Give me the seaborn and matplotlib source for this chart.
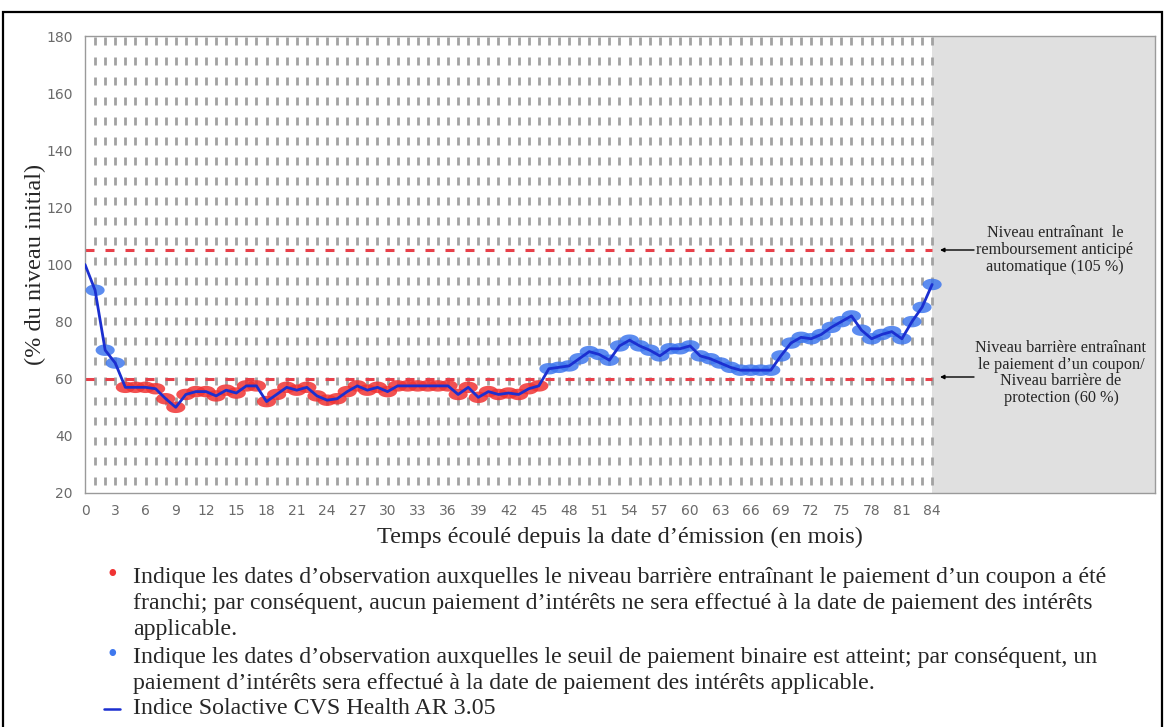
import numpy as np
import pandas as pd
import matplotlib
matplotlib.use("Agg")
import matplotlib.pyplot as plt
from matplotlib.path import Path
from matplotlib.patches import Rectangle
from matplotlib.lines import Line2D
import seaborn as sns

# Monthly closing level of the index, % of initial level
months = list(range(85))
level = [100, 91, 70, 65.5, 57, 57, 57, 56.5, 53, 50,
         54.5, 55.5, 55.5, 54, 56, 55, 57.5, 57.5, 52, 54.5,
         57, 56, 57, 54, 52.5, 53, 55.5, 57.5, 56, 57,
         55.5, 57.5, 57.5, 57.5, 57.5, 57.5, 57.5, 54.5, 57, 53.5,
         55.5, 54.5, 55, 54.5, 56.5, 57.5, 63.5, 64, 64.5, 67,
         69.5, 68.5, 66.5, 71.5, 73.5, 71.5, 70, 68, 70.5, 70.5,
         71.5, 68, 67, 65.5, 64, 63, 63, 63, 63, 68,
         72.5, 74.5, 74, 75.5, 78, 80, 82, 77, 74, 75.5,
         76.5, 74, 80, 85, 93]
barrier_autocall = 105
barrier_coupon = 60
xtick_labels = list(range(0, 85, 3))
ytick_labels = list(range(20, 181, 20))

ylabel = "(% du niveau initial)"
xlabel = "Temps écoulé depuis la date d’émission (en mois)"
note_autocall = "Niveau entraînant  le\nremboursement anticipé\nautomatique (105 %)"
note_coupon = "Niveau barrière entraînant\nle paiement d’un coupon/\nNiveau barrière de\nprotection (60 %)"
legend_lines = [
    "Indique les dates d’observation auxquelles le niveau barrière entraînant le paiement d’un coupon a été",
    "franchi; par conséquent, aucun paiement d’intérêts ne sera effectué à la date de paiement des intérêts",
    "applicable.",
    "Indique les dates d’observation auxquelles le seuil de paiement binaire est atteint; par conséquent, un",
    "paiement d’intérêts sera effectué à la date de paiement des intérêts applicable.",
    "Indice Solactive CVS Health AR 3.05",
]

df = pd.DataFrame({"mois": months, "niveau": level})
obs = df[df["mois"] > 0].copy()
obs["statut"] = np.where(obs["niveau"] < barrier_coupon, "franchi", "atteint")

sns.set_style("white")
plt.rcParams["lines.scale_dashes"] = False
plt.rcParams["font.family"] = ["DejaVu Sans"]
serif = "Liberation Serif"

RED = "#f03434"
BLUE_MK = "#3f78ee"
BLUE_LINE = "#1b2fd0"
GRID = "#a2a2a2"

W, H = 1165, 727
fig = plt.figure(figsize=(W / 100, H / 100), dpi=100)
ax = fig.add_axes([85 / W, 1 - 493 / H, (1155 - 85) / W, (493 - 36) / H])
ax.set_xlim(0, 106.1)
ax.set_ylim(20, 180)

# grey zone after maturity
ax.axvspan(84, 106.1, color="#e0e0e0", zorder=0, lw=0)

# vertical dashed grid, one line per month
px = 0.72  # points per pixel
ax.vlines(range(1, 85), 20, 180, colors=GRID, lw=2.0,
          linestyles=[(12 * px, (8 * px, 12 * px))], zorder=1)

# barrier levels
ax.hlines([barrier_autocall, barrier_coupon], 0, 84, colors="#e8404a", lw=2.2,
          linestyles=[(0, (9 * px, 11 * px))], zorder=2)

# elliptical observation markers
t = np.linspace(0, 2 * np.pi, 40)
ellipse = Path(np.column_stack([np.cos(t), 0.6 * np.sin(t)]), closed=True)
sns.scatterplot(data=obs, x="mois", y="niveau", hue="statut",
                palette={"franchi": RED, "atteint": BLUE_MK},
                marker=ellipse, s=190, alpha=0.85, linewidth=0,
                legend=False, ax=ax, zorder=3)
sns.lineplot(data=df, x="mois", y="niveau", color=BLUE_LINE, lw=2,
             ax=ax, zorder=4)

ax.set_xticks(xtick_labels)
ax.set_yticks(ytick_labels)
ax.tick_params(axis="both", colors="#666666", labelsize=10, length=3,
               width=0.8, pad=5, labelcolor="#6a6a6a")
ax.tick_params(axis="y", pad=6)
for s in ax.spines.values():
    s.set_color("#9a9a9a")
    s.set_linewidth(1)

ax.set_xlabel(xlabel, family=serif, fontsize=17.5, labelpad=6)
ax.set_ylabel(ylabel, family=serif, fontsize=17.5, labelpad=0)

# notes in the grey zone
ax.text(1055 / W, 1 - 250 / H, note_autocall, transform=fig.transFigure,
        ha="center", va="center", family=serif, fontsize=11.7, linespacing=1.05)
ax.text(1061 / W, 1 - 373 / H, note_coupon, transform=fig.transFigure,
        ha="center", va="center", family=serif, fontsize=11.7, linespacing=1.05)
for y0, x0 in [(250, 974), (377, 974)]:
    ax.annotate("", xy=(940, H - y0), xycoords="figure pixels",
                xytext=(x0, H - y0), textcoords="figure pixels",
                arrowprops=dict(arrowstyle="-|>", color="black", lw=1,
                                mutation_scale=6, shrinkA=0, shrinkB=0))

# legend text below the chart
ys = [577, 604, 630, 657, 683, 709]
for y, line in zip(ys, legend_lines):
    fig.text(133 / W, 1 - y / H, line, family=serif, fontsize=17.2,
             va="center", ha="left")
fig.text(112 / W, 1 - 576 / H, "•", color=RED, family=serif,
         fontsize=20, va="center", ha="center")
fig.text(112 / W, 1 - 656 / H, "•", color=BLUE_MK, family=serif,
         fontsize=20, va="center", ha="center")
fig.add_artist(Line2D([104 / W, 120 / W], [1 - 709 / H, 1 - 709 / H],
                      color=BLUE_LINE, lw=1.8))

# outer frame
fig.add_artist(Rectangle((3 / W, -0.01), (1162 - 3) / W, 1 - 12 / H + 0.01,
                         transform=fig.transFigure, fill=False, lw=1.6,
                         ec="black", clip_on=False))

fig.savefig("out.png", dpi=100)
